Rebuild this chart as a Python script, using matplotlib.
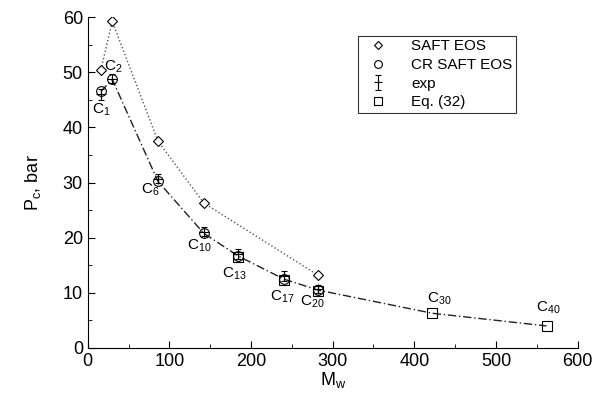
import matplotlib.pyplot as plt
from matplotlib.ticker import MultipleLocator

plt.rcParams['font.family'] = ['Liberation Sans', 'DejaVu Sans']
plt.rcParams['mathtext.fontset'] = 'custom'
plt.rcParams['mathtext.rm'] = 'Liberation Sans'
plt.rcParams['mathtext.it'] = 'Liberation Sans'

# Molecular weights of the n-alkanes
mw_saft = [16, 30, 86, 142, 282]
pc_saft = [50.4, 59.2, 37.5, 26.3, 13.2]

mw_cr = [16, 30, 86, 142, 184, 240, 282]
pc_cr = [46.5, 48.7, 30.2, 20.8, 16.7, 12.5, 10.5]

mw_exp = [16, 30, 86, 142, 184, 240, 282]
pc_exp = [46.0, 48.8, 30.7, 21.1, 17.0, 13.0, 10.7]
pc_err = [1.0, 0.8, 0.8, 0.8, 0.9, 0.9, 0.8]

mw_eq = [184, 240, 282, 422, 562]
pc_eq = [16.5, 12.3, 10.3, 6.3, 4.0]

# CR SAFT curve continues to heavier alkanes
mw_line = [16, 30, 86, 142, 184, 240, 282, 422, 562]
pc_line = [46.5, 48.7, 30.2, 20.8, 16.7, 12.5, 10.5, 6.3, 4.0]

labels = ["1", "2", "6", "10", "13", "17", "20", "30", "40"]
label_x = [16, 31, 76, 137, 180, 238, 275, 431, 564]
label_y = [43.1, 50.9, 28.6, 18.6, 13.4, 9.2, 8.3, 8.9, 7.2]

fig = plt.figure(figsize=(5.93, 4.0), dpi=100)
ax = fig.add_axes([0.148, 0.13, 0.826, 0.8275])

ax.plot(mw_saft, pc_saft, color='#555555', linestyle=':', linewidth=1.0)
ax.plot(mw_line, pc_line, color='#222222', linestyle='-.', linewidth=1.0, dashes=(6, 2, 1, 2))

h_saft, = ax.plot(mw_saft, pc_saft, linestyle='none', marker='D', markersize=5,
                  markerfacecolor='white', markeredgecolor='black', markeredgewidth=0.8)
h_cr, = ax.plot(mw_cr, pc_cr, linestyle='none', marker='o', markersize=7,
                markerfacecolor='none', markeredgecolor='black', markeredgewidth=0.8)
h_exp = ax.errorbar(mw_exp, pc_exp, yerr=pc_err, fmt='+', color='black', markersize=7,
                    markeredgewidth=0.8, elinewidth=0.8, capsize=2.5)
h_eq, = ax.plot(mw_eq, pc_eq, linestyle='none', marker='s', markersize=7,
                markerfacecolor='none', markeredgecolor='black', markeredgewidth=0.8)

for lab, x, y in zip(labels, label_x, label_y):
    ax.text(x, y, "C$_{\\mathrm{%s}}$" % lab, fontsize=11, ha='center', va='center')

ax.set_xlim(0, 600)
ax.set_ylim(0, 60)
ax.xaxis.set_major_locator(MultipleLocator(100))
ax.xaxis.set_minor_locator(MultipleLocator(50))
ax.yaxis.set_major_locator(MultipleLocator(10))
ax.yaxis.set_minor_locator(MultipleLocator(5))
ax.tick_params(which='both', direction='in', labelsize=13)
ax.tick_params(which='major', length=5)
ax.tick_params(which='minor', length=3)
ax.spines['top'].set_visible(False)
ax.spines['right'].set_visible(False)

ax.set_xlabel("M$_{\\mathrm{w}}$", fontsize=13, labelpad=0)
ax.set_ylabel("P$_{\\mathrm{c}}$, bar", fontsize=13, labelpad=14)

leg = ax.legend([h_saft, h_cr, h_exp, h_eq], ['SAFT EOS', 'CR SAFT EOS', 'exp', 'Eq. (32)'],
                loc='upper left', bbox_to_anchor=(0.537, 0.967), fontsize=11,
                frameon=True, fancybox=False, edgecolor='black', handlelength=2.0,
                handletextpad=1.2, borderpad=0.25, labelspacing=0.3, markerscale=0.8)
leg.get_frame().set_linewidth(0.8)

fig.savefig("out.png", dpi=100)
